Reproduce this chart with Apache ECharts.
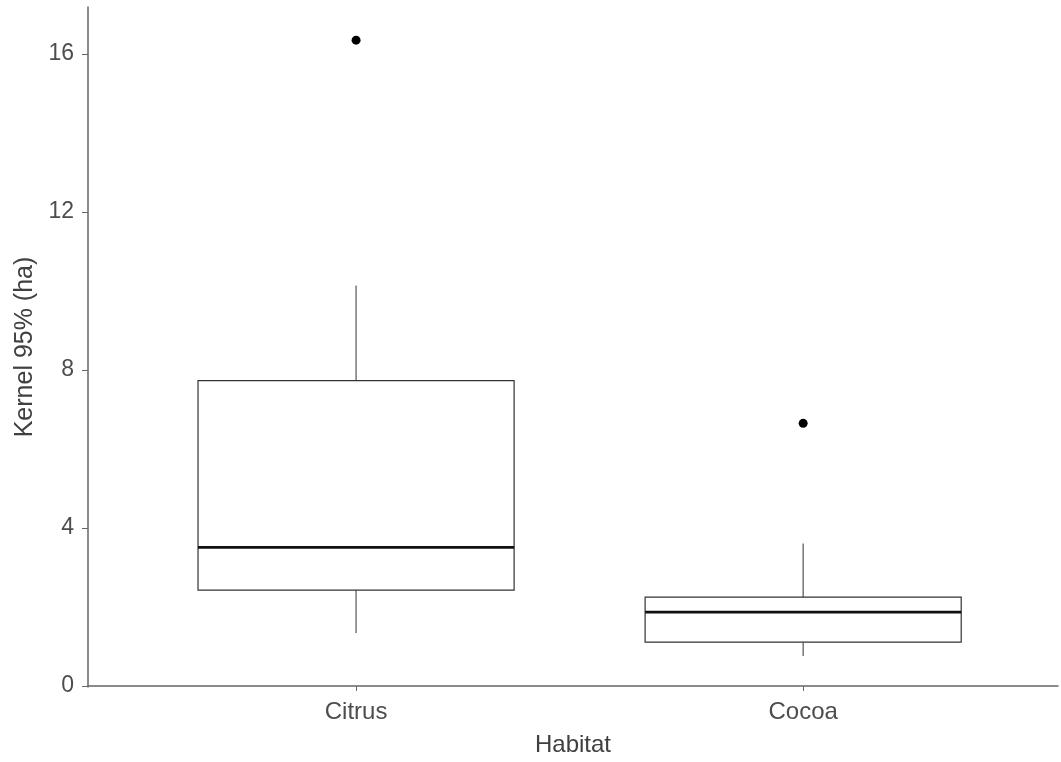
<!DOCTYPE html>
<html>
<head>
<meta charset="utf-8">
<script src="https://cdn.jsdelivr.net/npm/echarts@6/dist/echarts.min.js"></script>
<style>
  html, body { margin: 0; padding: 0; background: #fff; }
  #chart { width: 1061px; height: 762px; }
</style>
</head>
<body>
<div id="chart"></div>
<script>
// Home-range size (Kernel 95%) by habitat
const categories = ['Citrus', 'Cocoa'];
const whiskerLow = [1.34, 0.76];
const q1 = [2.43, 1.11];
const median = [3.51, 1.87];
const q3 = [7.73, 2.25];
const whiskerHigh = [10.14, 3.61];
const outlierCategory = [0, 1];
const outlierValue = [16.35, 6.65];
const yTicks = [0, 4, 8, 12, 16];

const BOX_HALF = 0.3535;
const FONT = 'Liberation Sans, Arial, sans-serif';

// Categories sit at x = 1, 2 on a numeric axis
const boxData = categories.map((c, i) => [i + 1, whiskerLow[i], q1[i], median[i], q3[i], whiskerHigh[i]]);
const outlierData = outlierCategory.map((c, i) => [c + 1, outlierValue[i]]);

function renderBox(params, api) {
  const x = api.value(0);
  const lo = api.coord([x, api.value(1)]);
  const b1 = api.coord([x, api.value(2)]);
  const md = api.coord([x, api.value(3)]);
  const b3 = api.coord([x, api.value(4)]);
  const hi = api.coord([x, api.value(5)]);
  const left = api.coord([x - BOX_HALF, 0])[0];
  const right = api.coord([x + BOX_HALF, 0])[0];
  const cx = lo[0];
  const line = { stroke: '#333', lineWidth: 1.2 };
  return {
    type: 'group',
    children: [
      { type: 'line', shape: { x1: cx, y1: hi[1], x2: cx, y2: b3[1] }, style: { stroke: '#555', lineWidth: 1.2 } },
      { type: 'line', shape: { x1: cx, y1: b1[1], x2: cx, y2: lo[1] }, style: { stroke: '#555', lineWidth: 1.2 } },
      { type: 'rect', shape: { x: left, y: b3[1], width: right - left, height: b1[1] - b3[1] },
        style: Object.assign({ fill: '#fff' }, line) },
      { type: 'line', shape: { x1: left, y1: md[1], x2: right, y2: md[1] }, style: { stroke: '#111', lineWidth: 2.6 } }
    ]
  };
}

const chart = echarts.init(document.getElementById('chart'), null, { renderer: 'canvas' });
chart.setOption({
  animation: false,
  backgroundColor: '#fff',
  grid: { left: 88, right: 3, top: 7, bottom: 74 },
  xAxis: {
    type: 'value',
    min: 0.4004,
    max: 2.57,
    name: 'Habitat',
    nameLocation: 'middle',
    nameGap: 46,
    nameTextStyle: { fontFamily: FONT, fontSize: 24, color: '#404040' },
    splitLine: { show: false },
    axisLine: { lineStyle: { color: '#666', width: 1.5 } },
    axisTick: { customValues: [1, 2], length: 5, lineStyle: { color: '#666' } },
    axisLabel: {
      customValues: [1, 2],
      formatter: v => categories[Math.round(v) - 1] || '',
      margin: 13,
      fontFamily: FONT,
      fontSize: 24,
      color: '#4d4d4d'
    }
  },
  yAxis: {
    type: 'value',
    min: -0.025,
    max: 17.19,
    name: 'Kernel 95% (ha)',
    nameLocation: 'middle',
    nameGap: 44,
    nameRotate: 90,
    nameTextStyle: { fontFamily: FONT, fontSize: 25, color: '#404040' },
    splitLine: { show: false },
    axisLine: { show: true, lineStyle: { color: '#666', width: 1.5 } },
    axisTick: { show: true, customValues: yTicks, length: 6, lineStyle: { color: '#666' } },
    axisLabel: {
      customValues: yTicks,
      margin: 14,
      fontFamily: FONT,
      fontSize: 23,
      color: '#4d4d4d'
    }
  },
  series: [
    {
      type: 'custom',
      renderItem: renderBox,
      encode: { x: 0, y: [1, 2, 3, 4, 5] },
      data: boxData,
      z: 2
    },
    {
      type: 'scatter',
      data: outlierData,
      symbol: 'circle',
      symbolSize: 9,
      itemStyle: { color: '#000', opacity: 1 },
      z: 3
    }
  ]
});
</script>
</body>
</html>
